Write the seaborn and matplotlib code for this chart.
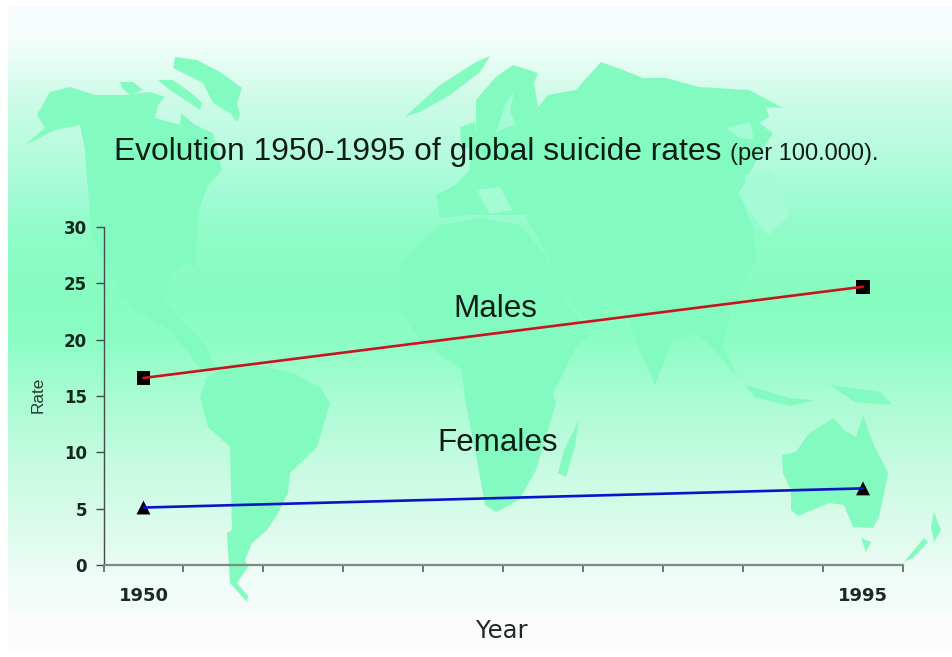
import matplotlib
matplotlib.use("Agg")
import matplotlib.pyplot as plt
import numpy as np
import pandas as pd
import seaborn as sns
from matplotlib.patches import Polygon

years = [1950, 1995]
males = [16.6, 24.7]
females = [5.1, 6.8]
y_ticks = [0, 5, 10, 15, 20, 25, 30]
x_edges = [1947.5 + 5 * i for i in range(11)]

title_main = "Evolution 1950-1995 of global suicide rates"
title_small = "(per 100.000)."

# fondo: degradado vertical (fila en pixeles, color)
grad_rows = [8, 38, 40, 60, 100, 150, 200, 235, 300, 340, 400, 470, 540, 580, 612]
grad_colors = ["#f6fbfd", "#f8fefd", "#f2fefa", "#e8fdf5", "#cdfbe8", "#b8fbdf", "#a0fbd4",
               "#8ffcc6", "#87fdc1", "#8cfdc4", "#aafcd4", "#c8fbe2", "#e0fbee", "#f0fdf8", "#f4fbfb"]

# mapa de fondo, contornos en pixeles de la imagen
map_color = "#83fabf"
map_shapes = [
    # Norteamerica
    [(25, 145), (45, 128), (37, 115), (50, 92), (70, 87), (95, 95), (125, 95), (150, 92), (165, 97),
     (158, 105), (155, 118), (180, 125), (181, 113), (195, 125), (213, 133), (222, 170), (207, 187),
     (200, 207), (197, 227), (195, 267), (185, 262), (170, 275), (165, 300), (185, 325), (205, 345),
     (215, 368), (200, 368), (170, 330), (135, 310), (110, 275), (92, 235), (88, 190), (85, 150),
     (80, 125), (55, 130)],
    # Sudamerica
    [(200, 397), (208, 427), (230, 447), (232, 530), (227, 533), (230, 583), (247, 602), (248, 596),
     (237, 583), (248, 567), (245, 560), (252, 543), (267, 530), (277, 515), (288, 493), (290, 473),
     (317, 447), (330, 403), (320, 387), (293, 373), (267, 367), (233, 363), (207, 377)],
    # Groenlandia e islas articas
    [(175, 57), (173, 68), (203, 83), (213, 103), (230, 113), (237, 122), (240, 115), (237, 103),
     (242, 88), (220, 72), (197, 60)],
    [(158, 80), (173, 80), (190, 92), (202, 103), (200, 110), (185, 100), (170, 90)],
    [(120, 82), (133, 82), (143, 90), (130, 95), (122, 88)],
    [(405, 117), (440, 85), (476, 62), (490, 56), (480, 72), (450, 95), (420, 112)],
    # Eurasia
    [(476, 100), (496, 77), (513, 65), (538, 73), (534, 83), (538, 107), (548, 95), (576, 90),
     (583, 82), (601, 62), (623, 70), (643, 78), (666, 78), (699, 87), (749, 90), (783, 108),
     (766, 107), (769, 117), (759, 123), (773, 133), (762, 150), (753, 167), (739, 193), (753, 227),
     (756, 260), (735, 300), (722, 345), (738, 378), (715, 350), (695, 332), (672, 342), (655, 385),
     (640, 350), (625, 310), (605, 300), (595, 330), (565, 295), (545, 250), (525, 215), (490, 215),
     (470, 215), (440, 218), (436, 195), (455, 185), (470, 170), (470, 150), (476, 130)],
    [(460, 127), (475, 122), (476, 145), (462, 150)],
    # Africa
    [(400, 265), (430, 235), (440, 225), (480, 218), (520, 225), (545, 255), (565, 300), (590, 335),
     (576, 347), (553, 393), (556, 403), (536, 470), (519, 500), (496, 512), (485, 505), (475, 450),
     (465, 400), (462, 370), (420, 340), (400, 310)],
    [(579, 420), (575, 445), (566, 477), (558, 473), (564, 450)],
    # Australia y vecinos
    [(782, 455), (783, 473), (791, 490), (791, 510), (798, 516), (829, 503), (844, 505), (853, 527),
     (873, 528), (879, 517), (888, 473), (873, 443), (863, 415), (856, 437), (844, 430), (834, 418),
     (809, 433), (796, 452)],
    [(861, 538), (871, 542), (866, 552)],
    [(934, 512), (941, 530), (934, 542), (931, 527)],
    [(904, 562), (924, 538), (928, 542), (913, 558)],
    [(745, 385), (790, 398), (815, 400), (790, 406), (755, 397)],
    [(830, 385), (880, 392), (893, 405), (855, 402)],
]
# mares interiores, mas claros que el mapa
sea_color = "#a4fbd6"
sea_shapes = [
    [(496, 133), (505, 105), (514, 92), (510, 112), (516, 125), (504, 128)],
    [(726, 128), (750, 122), (754, 140), (738, 137)],
    [(745, 175), (770, 170), (790, 215), (768, 235), (745, 205)],
    [(476, 190), (500, 187), (512, 210), (490, 214)],
]

sns.set_theme(style="white")
plt.rcParams["font.family"] = ["Liberation Sans", "DejaVu Sans"]

df = pd.DataFrame(
    {
        "Year": years * 2,
        "Rate": males + females,
        "Sex": ["Males"] * len(years) + ["Females"] * len(years),
    }
)

W, H = 952, 657
fig = plt.figure(figsize=(W / 100, H / 100), dpi=100, facecolor="white")

# capa de fondo en coordenadas de pixel
bg = fig.add_axes([0, 0, 1, 1], zorder=0)
bg.set_xlim(0, W)
bg.set_ylim(H, 0)
bg.axis("off")

rgb = np.array([matplotlib.colors.to_rgb(c) for c in grad_colors])
rows = np.arange(8, 614)
grad = np.stack([np.interp(rows, grad_rows, rgb[:, i]) for i in range(3)], axis=1)[:, None, :]
bg.imshow(grad, extent=(8, W, 613.5, 7.5), aspect="auto", zorder=0)
bg.imshow(np.array([[matplotlib.colors.to_rgb("#fdfcfd")]]), extent=(8, W, 650, 613.5),
          aspect="auto", zorder=0)
bg.set_xlim(0, W)
bg.set_ylim(H, 0)

for shape in map_shapes:
    bg.add_patch(Polygon(shape, closed=True, facecolor=map_color, edgecolor="none", zorder=1))
for shape in sea_shapes:
    bg.add_patch(Polygon(shape, closed=True, facecolor=sea_color, edgecolor="none", zorder=2))

# titulos y etiquetas de serie
bg.text(114, 160, title_main, fontsize=22.85, color="#0c1c16", ha="left", va="baseline", zorder=3)
bg.text(730, 160, title_small, fontsize=17, color="#0c1c16", ha="left", va="baseline", zorder=3)
bg.text(495.5, 317, "Males", fontsize=22.6, color="#0c1c16", ha="center", va="baseline", zorder=3)
bg.text(498, 451, "Females", fontsize=22.6, color="#0c1c16", ha="center", va="baseline", zorder=3)

# grafico
ax = fig.add_axes([103.5 / W, (H - 565) / H, (903 - 103.5) / W, (565 - 227) / H], zorder=1)
ax.patch.set_alpha(0)

# marcadores primero, la linea pasa por encima como en el original
sns.scatterplot(
    data=df, x="Year", y="Rate", style="Sex", markers={"Males": "s", "Females": "^"},
    color="black", s=100, edgecolor="none", legend=False, ax=ax, zorder=2, clip_on=False,
)
sns.lineplot(
    data=df, x="Year", y="Rate", hue="Sex", palette={"Males": "#c8141e", "Females": "#0a14c8"},
    linewidth=1.9, legend=False, ax=ax, zorder=3,
)

ax.set_xlim(x_edges[0], x_edges[-1])
ax.set_ylim(0, 30)
ax.set_yticks(y_ticks)
ax.set_xticks(years)
ax.set_xticks(x_edges, minor=True)
ax.tick_params(axis="x", which="major", length=0, pad=15.5, labelsize=13, labelcolor="#1c2a26")
ax.tick_params(axis="x", which="minor", bottom=True, length=5, width=1.2, color="#555f5b")
ax.tick_params(axis="y", left=True, length=6, width=1.0, color="#444c48", pad=6, labelsize=12,
               labelcolor="#13281f")
for lab in ax.get_xticklabels():
    lab.set_fontfamily("DejaVu Sans")
    lab.set_fontweight("bold")
for lab in ax.get_yticklabels():
    lab.set_fontfamily("DejaVu Sans")
    lab.set_fontweight("bold")

ax.spines["top"].set_visible(False)
ax.spines["right"].set_visible(False)
ax.spines["left"].set_color("#454d49")
ax.spines["left"].set_linewidth(1.0)
ax.spines["bottom"].set_color("#7f8a85")
ax.spines["bottom"].set_linewidth(1.6)

ax.set_xlabel("")
ax.set_ylabel("")
bg.text(502, 638, "Year", fontsize=17.5, color="#1c2a26", family="DejaVu Sans", ha="center",
        va="baseline", zorder=3)
bg.text(38, 395, "Rate", fontsize=12.3, color="#2c3c36", rotation=90, ha="center", va="center",
        zorder=3)

fig.savefig("out.png", dpi=100)
